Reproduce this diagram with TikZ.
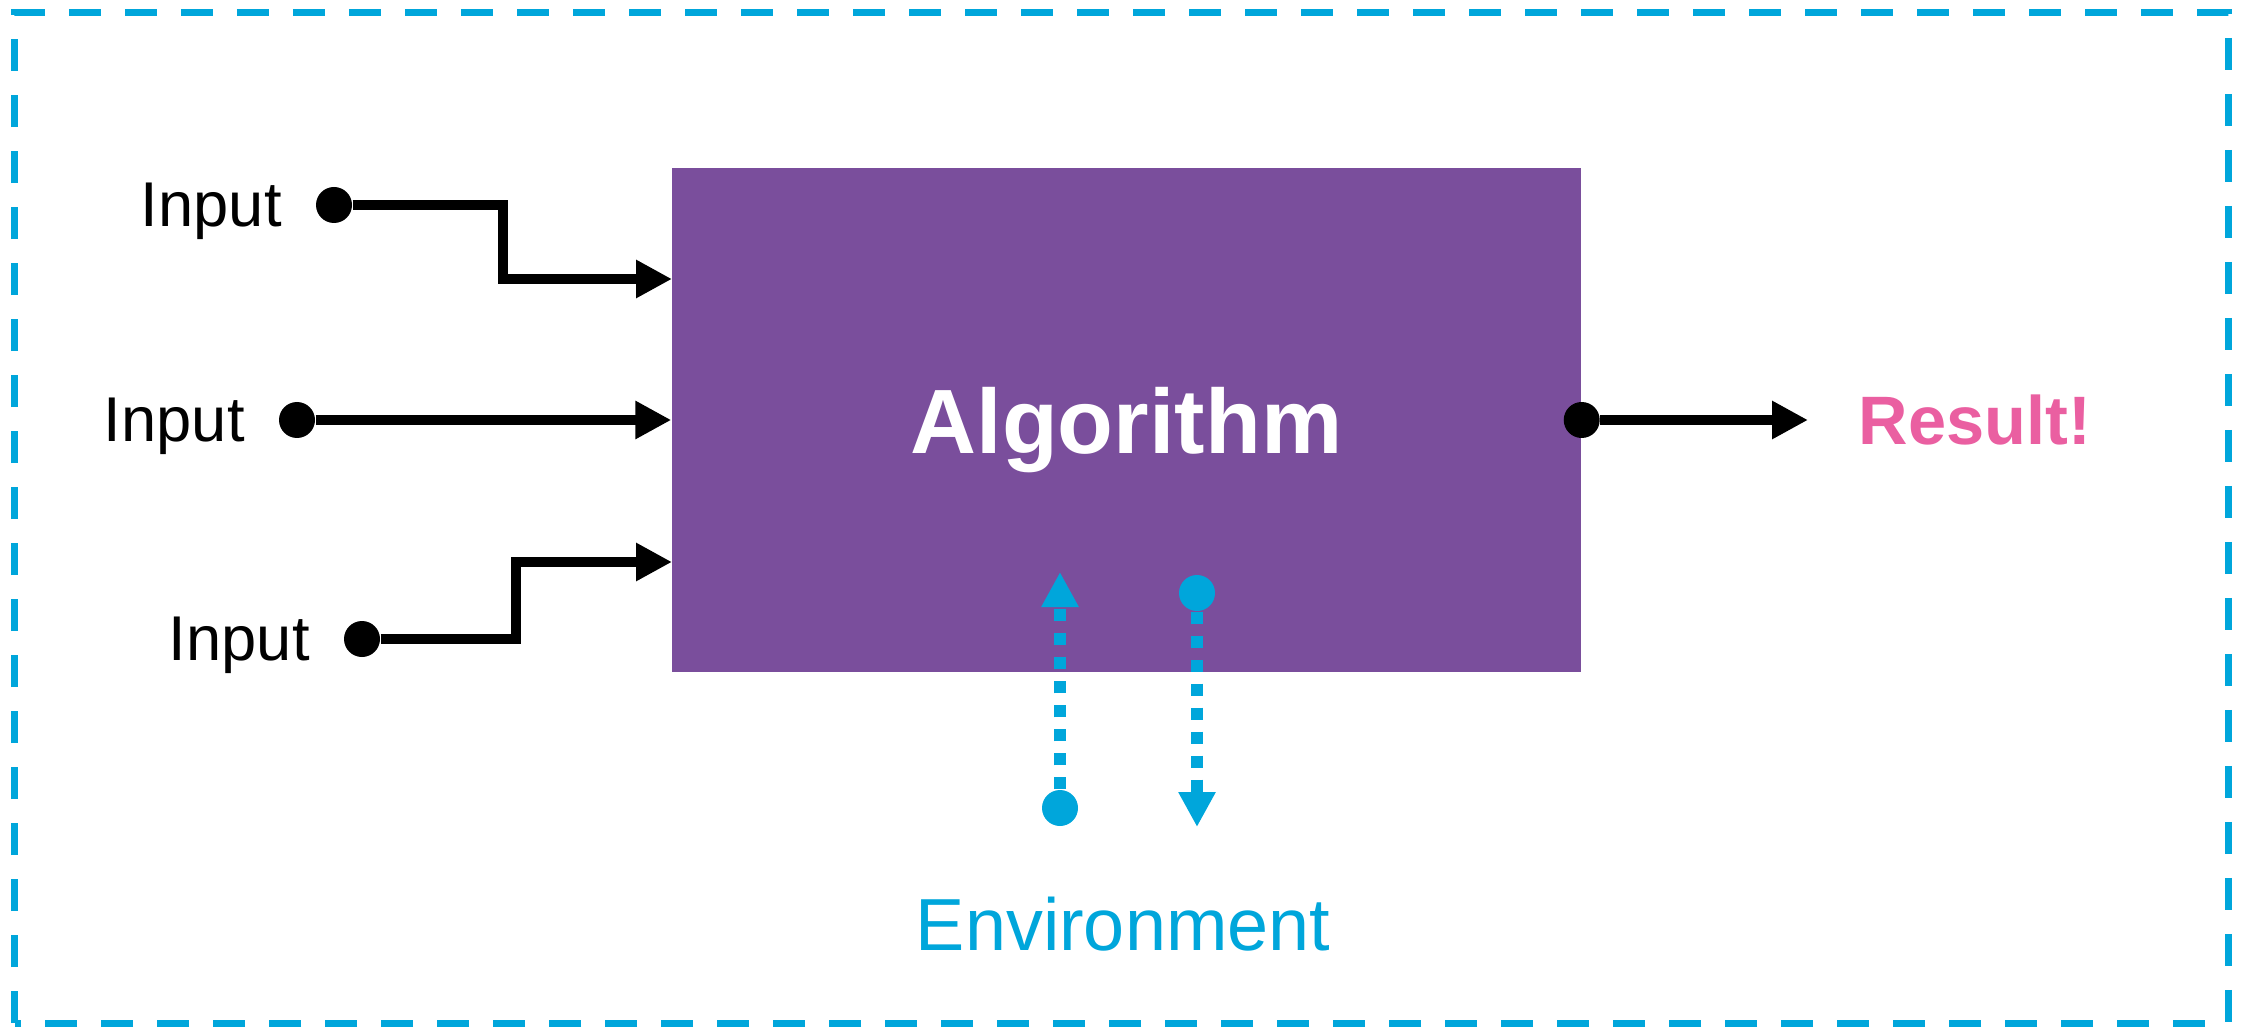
\documentclass[tikz,border=0pt]{standalone}
\usepackage{fontspec}
\setmainfont{Liberation Sans}
\usepackage{tikz}
\usetikzlibrary{calc,positioning,arrows.meta}
\definecolor{algopurple}{HTML}{7A4E9C}
\definecolor{envblue}{HTML}{00A6DB}
\definecolor{respink}{HTML}{EA5FA1}

\begin{document}
\begin{tikzpicture}[wire/.style={line width=3.1pt, -{Triangle[length=3.6mm,width=3.6mm]}},
  envwire/.style={envblue, line width=1.2mm, dash pattern=on 1.2mm off 1.2mm, -{Triangle[length=3.5mm,width=3.5mm]}}]
\tikzstyle{bullet}=[circle, fill, inner sep=0pt, minimum size=3.6mm]
\tikzstyle{inlbl}=[inner sep=0pt, text depth=0pt, font=\fontsize{18}{20}\selectfont]
\useasboundingbox (0,0) rectangle (22.46,10.27);
% environment border
\draw[envblue, line width=0.7mm, dash pattern=on 3.2mm off 2.4mm] (0.15,0.04) rectangle (22.28,10.14);
% the box
\node[fill=algopurple, minimum width=9.09cm, minimum height=5.04cm, inner sep=0pt] (algo) at (11.265,6.07){};
\node[text=white, inner sep=0pt, text depth=0pt, font=\bfseries\fontsize{26}{28}\selectfont] (algotxt) at (algo.center){Algorithm};
% inputs
\node[bullet] (in1) at (3.34,8.22){};
\node[bullet] (in2) at (2.97,6.07){};
\node[bullet] (in3) at (3.62,3.88){};
\foreach \i in {1,2,3}{\node[inlbl, left=3.3mm of in\i] (lbl\i) {Input};}
\coordinate (t1) at (6.72,7.48);
\coordinate (t3) at (6.72,4.65);
\foreach \s/\d/\t in {in1/1.69/t1,in3/1.54/t3}{\draw[wire] (\s) -- ++(\d,0) |- (\t);}
\draw[wire] (in2) -- (algo.west);
% output
\node[bullet] (out) at (algo.east){};
\coordinate (outtip) at (18.08,6.07);
\draw[wire] (out) -- (outtip);
\node[right=5mm of outtip, inner sep=0pt, text depth=0pt, text=respink, font=\bfseries\fontsize{19.5}{22}\selectfont] (res) {Result!};
% environment
\node[bullet, envblue] (eu) at (10.60,2.19){};
\node[bullet, envblue] (ed) at (11.97,4.34){};
\coordinate (eutip) at (10.60,4.55);
\coordinate (edtip) at (11.97,2.00);
\draw[envwire] (eu) -- (eutip);
\draw[envwire] (ed) -- (edtip);
\node[inner sep=0pt, text depth=0pt, text=envblue, font=\fontsize{21}{24}\selectfont] (envtxt) at (11.23,1.03){Environment};
\end{tikzpicture}
\end{document}
